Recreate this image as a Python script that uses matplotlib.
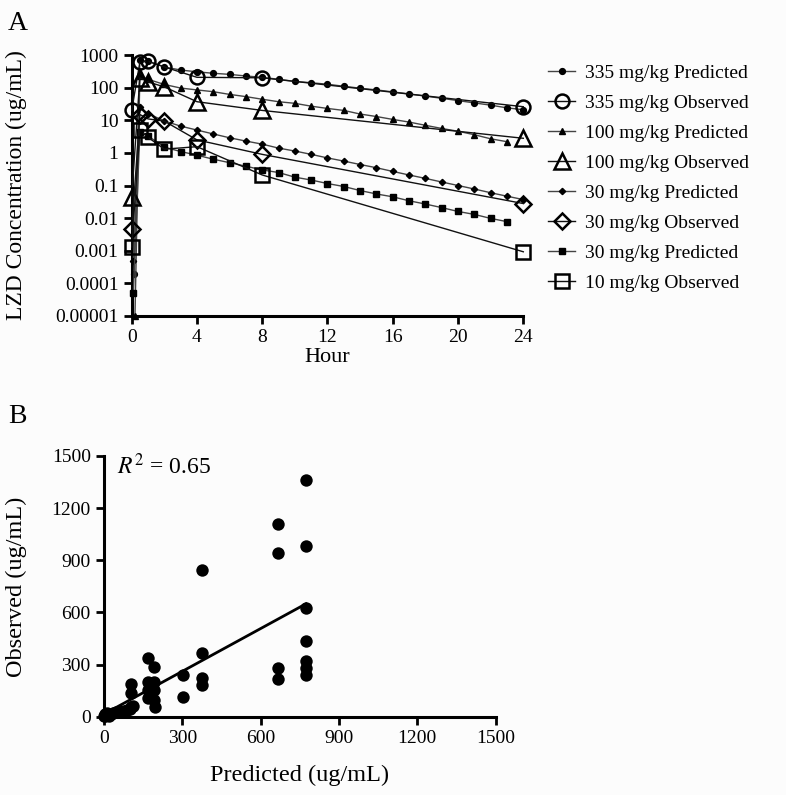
import numpy as np
import matplotlib
matplotlib.use("Agg")
import matplotlib.pyplot as plt

plt.rcParams['font.family'] = ['Liberation Serif', 'DejaVu Serif']
plt.rcParams['mathtext.fontset'] = 'stix'

# ---------------- Panel A data ----------------
t_obs = [0, 0.5, 1, 2, 4, 8, 24]
obs_335 = [20, 600, 640, 430, 207, 200, 26]
obs_100 = [0.045, 200, 150, 105, 37, 20, 2.8]
obs_30 = [0.0045, 15, 11, 9.4, 2.5, 0.9, 0.028]
obs_10 = [0.0013, 5.0, 3.0, 1.3, 1.55, 0.21, 0.00093]

t_pred_335 = [0.15, 0.5, 1, 2, 3, 4, 5, 6, 7, 8, 9, 10, 11, 12, 13, 14, 15, 16, 17, 18, 19, 20, 21, 22, 23, 24]
pred_335 = [0.0002, 700, 650, 430, 346, 305, 275, 255, 227, 207, 180, 155, 141, 127, 110, 96, 85, 74, 64, 55, 47, 40, 34, 29, 24, 21]

t_pred_100 = [0.2, 0.5, 1, 2, 3, 4, 5, 6, 7, 8, 9, 10, 11, 12, 13, 14, 15, 16, 17, 18, 19, 20, 21, 22, 23]
pred_100 = [0.00001, 230, 180, 125, 97, 85, 75, 62, 53, 44, 37, 33, 27, 23, 20, 15.5, 13, 10.6, 8.8, 7.0, 5.6, 4.6, 3.6, 2.7, 2.2]

t_pred_30 = [0.1, 0.5, 1, 2, 3, 4, 5, 6, 7, 8, 9, 10, 11, 12, 13, 14, 15, 16, 17, 18, 19, 20, 21, 22, 23, 24]
pred_30 = [0.0005, 25, 16, 9.5, 6.6, 5.0, 3.8, 2.9, 2.3, 1.85, 1.4, 1.14, 0.9, 0.7, 0.56, 0.44, 0.35, 0.27, 0.21, 0.165, 0.128, 0.1, 0.078, 0.06, 0.047, 0.037]

t_pred_10 = [0.1, 0.5, 1, 2, 3, 4, 5, 6, 7, 8, 9, 10, 11, 12, 13, 14, 15, 16, 17, 18, 19, 20, 21, 22, 23]
pred_10 = [0.00005, 4.5, 3.3, 1.5, 1.1, 0.85, 0.64, 0.5, 0.39, 0.3, 0.25, 0.18, 0.147, 0.115, 0.093, 0.07, 0.055, 0.045, 0.034, 0.027, 0.021, 0.016, 0.013, 0.0098, 0.0078]

legend_labels = ["335 mg/kg Predicted", "335 mg/kg Observed",
                 "100 mg/kg Predicted", "100 mg/kg Observed",
                 "30 mg/kg Predicted", "30 mg/kg Observed",
                 "30 mg/kg Predicted", "10 mg/kg Observed"]

yticks_A = [1e-5, 1e-4, 1e-3, 1e-2, 1e-1, 1, 10, 100, 1000]
yticklabels_A = ["0.00001", "0.0001", "0.001", "0.01", "0.1", "1", "10", "100", "1000"]
xticks_A = [0, 4, 8, 12, 16, 20, 24]

# ---------------- Panel B data ----------------
pred_B = [774, 774, 774, 774, 774, 774, 774,
          665, 665, 665, 665,
          374, 374, 374, 374,
          301, 301,
          170, 192, 170, 192, 170, 192, 170, 192, 194,
          105, 105, 105,
          2, 5, 10, 15, 25, 35, 45, 60, 75, 90, 100, 110, 0, 20]
obs_B = [1364, 981, 626, 435, 320, 282, 240,
         1107, 943, 278, 215,
         843, 364, 221, 182,
         240, 115,
         336, 287, 201, 201, 153, 153, 106, 96, 54,
         188, 134, 57,
         5, 15, 20, 10, 18, 22, 25, 30, 35, 40, 45, 60, 2, 5]
fit_slope = 0.82
fit_intercept = 15
fit_x = [10, 774]
r2_text = "0.65"
ticks_B = [0, 300, 600, 900, 1200, 1500]

# ---------------- Figure ----------------
fig = plt.figure(figsize=(7.86, 7.95), dpi=100)
fig.patch.set_facecolor('#fcfcfc')

axA = fig.add_axes([131.7/786, 1-316/795, (523.3-131.7)/786, (316-55)/795])
axA.set_facecolor('#fcfcfc')
pc = '#444444'
oc = '#111111'
ms_o = 10
mew_o = 1.8

h = []
h.append(axA.plot(t_pred_335, pred_335, '-', color=pc, lw=1, marker='o', ms=4.2, mfc='black', mec='black', clip_on=False, zorder=3)[0])
h.append(axA.plot(t_obs, obs_335, '-', color=oc, lw=1, marker='o', ms=ms_o, mfc='none', mec='black', mew=mew_o, clip_on=False, zorder=4)[0])
h.append(axA.plot(t_pred_100, pred_100, '-', color=pc, lw=1, marker='^', ms=4.5, mfc='black', mec='black', clip_on=False, zorder=3)[0])
h.append(axA.plot(t_obs, obs_100, '-', color=oc, lw=1, marker='^', ms=ms_o+1, mfc='none', mec='black', mew=mew_o, clip_on=False, zorder=4)[0])
h.append(axA.plot(t_pred_30, pred_30, '-', color=pc, lw=1, marker='D', ms=3.2, mfc='black', mec='black', clip_on=False, zorder=3)[0])
h.append(axA.plot(t_obs, obs_30, '-', color=oc, lw=1, marker='D', ms=ms_o-2, mfc='none', mec='black', mew=mew_o, clip_on=False, zorder=4)[0])
h.append(axA.plot(t_pred_10, pred_10, '-', color=pc, lw=1, marker='s', ms=4.5, mfc='black', mec='black', clip_on=False, zorder=3)[0])
h.append(axA.plot(t_obs, obs_10, '-', color=oc, lw=1, marker='s', ms=ms_o, mfc='none', mec='black', mew=mew_o, clip_on=False, zorder=4)[0])

axA.set_yscale('log')
axA.set_ylim(1e-5, 1000)
axA.set_xlim(0, 24)
axA.set_yticks(yticks_A)
axA.set_yticklabels(yticklabels_A)
axA.set_xticks(xticks_A)
axA.tick_params(axis='both', which='major', labelsize=14, width=2, length=6, direction='out', color='black')
axA.tick_params(axis='y', which='minor', width=1.2, length=4, direction='in')
for s in ['top', 'right']:
    axA.spines[s].set_visible(False)
for s in ['left', 'bottom']:
    axA.spines[s].set_linewidth(2.2)
axA.set_xlabel('Hour', fontsize=16, labelpad=1)
axA.set_ylabel('LZD Concentration (ug/mL)', fontsize=17, labelpad=20)

leg = fig.legend(h, legend_labels, loc='upper left', bbox_to_anchor=(548/786, 1-64/795),
                 frameon=False, fontsize=14, handlelength=1.4, handletextpad=0.5,
                 labelspacing=0.64, borderaxespad=0, borderpad=0)

fig.text(8/786, 1-30/795, 'A', fontsize=20, ha='left', va='baseline')

# Panel B
axB = fig.add_axes([104/786, 1-716.7/795, 391.5/786, 260.7/795])
axB.set_facecolor('#fcfcfc')
axB.scatter(pred_B, obs_B, s=80, color='black', zorder=3, clip_on=False, linewidths=0)
fx = np.array(fit_x, dtype=float)
axB.plot(fx, fit_slope*fx + fit_intercept, color='black', lw=2, zorder=2)
axB.set_xlim(0, 1500)
axB.set_ylim(0, 1500)
axB.set_xticks(ticks_B)
axB.set_yticks(ticks_B)
axB.tick_params(axis='both', labelsize=14, width=2, length=6, direction='out')
for s in ['top', 'right']:
    axB.spines[s].set_visible(False)
for s in ['left', 'bottom']:
    axB.spines[s].set_linewidth(2.2)
axB.set_xlabel('Predicted (ug/mL)', fontsize=17.5, labelpad=13)
axB.set_ylabel('Observed (ug/mL)', fontsize=17.5, labelpad=18)
axB.text(0.033, 0.96, r'$R^2$ = ' + r2_text, transform=axB.transAxes, fontsize=17, va='center', ha='left')

fig.text(8/786, 1-423/795, 'B', fontsize=20, ha='left', va='baseline')

fig.savefig('out.png', dpi=100, facecolor=fig.get_facecolor())
